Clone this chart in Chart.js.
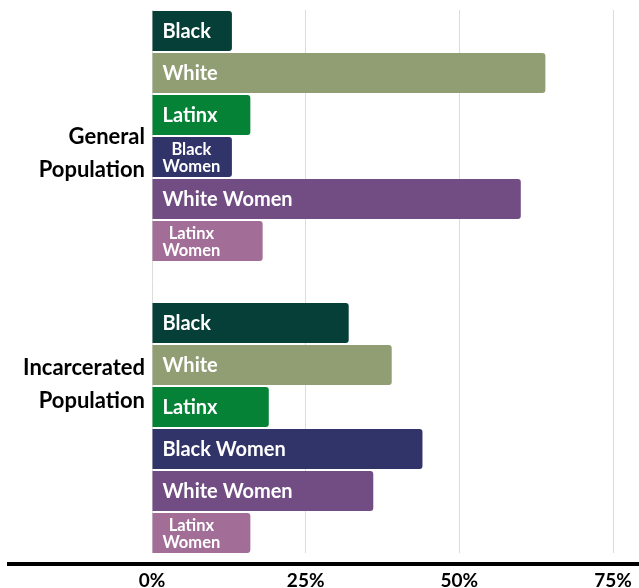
<!DOCTYPE html>
<html>
<head>
<meta charset="utf-8">
<script src="https://cdn.jsdelivr.net/npm/chart.js@4/dist/chart.umd.min.js"></script>
<style>
  html, body { margin: 0; padding: 0; background: #ffffff; }
  #wrap { width: 639px; height: 588px; }
</style>
</head>
<body>
<div id="wrap"><canvas id="c" width="639" height="588"></canvas></div>
<script>
// ---- data ----
const groups = [['General', 'Population'], ['Incarcerated', 'Population']];
const seriesNames = ['Black', 'White', 'Latinx', 'Black Women', 'White Women', 'Latinx Women'];
const generalPct = [13, 64, 16, 13, 60, 18];
const incarceratedPct = [32, 39, 19, 44, 36, 16];
const seriesColors = ['#063f37', '#919e74', '#068237', '#313468', '#724d84', '#a26d96'];
const xTicks = [0, 25, 50, 75];
// label anchor positions (group index space) for the two category labels
const groupLabelPos = [0.061, 0.85];

const FONT = 'Lato, "Open Sans", sans-serif';

const datasets = seriesNames.map((name, i) => ({
  label: name,
  data: [{ x: generalPct[i], y: 0 }, { x: incarceratedPct[i], y: 1 }],
  backgroundColor: seriesColors[i],
  borderRadius: 3,
  borderSkipped: 'start',
  categoryPercentage: 1.094,
  barPercentage: 0.952
}));

const barLabels = {
  id: 'barLabels',
  afterDatasetsDraw(chart) {
    const ctx = chart.ctx;
    ctx.save();
    ctx.fillStyle = '#ffffff';
    ctx.textBaseline = 'middle';
    chart.data.datasets.forEach((ds, di) => {
      const meta = chart.getDatasetMeta(di);
      meta.data.forEach(el => {
        const w = el.x - el.base;
        ctx.font = 'bold 20px ' + FONT;
        const full = ds.label;
        const tw = ctx.measureText(full).width;
        if (tw + 20 <= w) {
          ctx.textAlign = 'left';
          ctx.fillText(full, el.base + 10, el.y + 1);
        } else {
          const lines = full.split(' ');
          ctx.font = 'bold 16.5px ' + FONT;
          const mw = Math.max(...lines.map(l => ctx.measureText(l).width));
          const cx = el.base + 10 + mw / 2;
          ctx.textAlign = 'center';
          const lh = 17;
          lines.forEach((l, k) => {
            ctx.fillText(l, cx, el.y + 1 + (k - (lines.length - 1) / 2) * lh);
          });
        }
      });
    });
    ctx.restore();
  }
};

const baseLine = {
  id: 'baseLine',
  afterDraw(chart) {
    const ctx = chart.ctx;
    ctx.save();
    ctx.strokeStyle = '#000000';
    ctx.lineWidth = 4;
    ctx.beginPath();
    ctx.moveTo(7, chart.chartArea.bottom + 11);
    ctx.lineTo(639, chart.chartArea.bottom + 11);
    ctx.stroke();
    ctx.restore();
  }
};

new Chart(document.getElementById('c'), {
  type: 'bar',
  data: { datasets },
  options: {
    responsive: false,
    animation: false,
    indexAxis: 'y',
    layout: { padding: { top: 10, right: 26, left: 0, bottom: 0 } },
    plugins: { legend: { display: false }, tooltip: { enabled: false } },
    scales: {
      y: {
        type: 'linear',
        reverse: true,
        offset: false,
        min: -0.4315,
        max: 1.428,
        grid: { display: false, drawTicks: false, offset: false },
        border: { display: false },
        afterBuildTicks: (scale) => { scale.ticks = groupLabelPos.map(v => ({ value: v })); },
        afterFit: (scale) => { scale.width = 152; scale.paddingTop = 0; scale.paddingBottom = 0; },
        ticks: {
          padding: 7,
          color: '#000000',
          font: { family: FONT, size: 22, weight: 'bold', lineHeight: 1.5 },
          callback: (v, i) => groups[i]
        }
      },
      x: {
        type: 'linear',
        min: 0,
        max: 75,
        grid: { color: '#dcdcdc', lineWidth: 1, drawTicks: false },
        border: { display: false },
        afterBuildTicks: (scale) => { scale.ticks = xTicks.map(v => ({ value: v })); },
        afterFit: (scale) => { scale.height = 35; scale.paddingLeft = 0; scale.paddingRight = 0; },
        ticks: {
          padding: 16,
          color: '#000000',
          font: { family: FONT, size: 19, weight: 'bold' },
          callback: (v) => v + '%'
        }
      }
    }
  },
  plugins: [barLabels, baseLine]
});
</script>
</body>
</html>
